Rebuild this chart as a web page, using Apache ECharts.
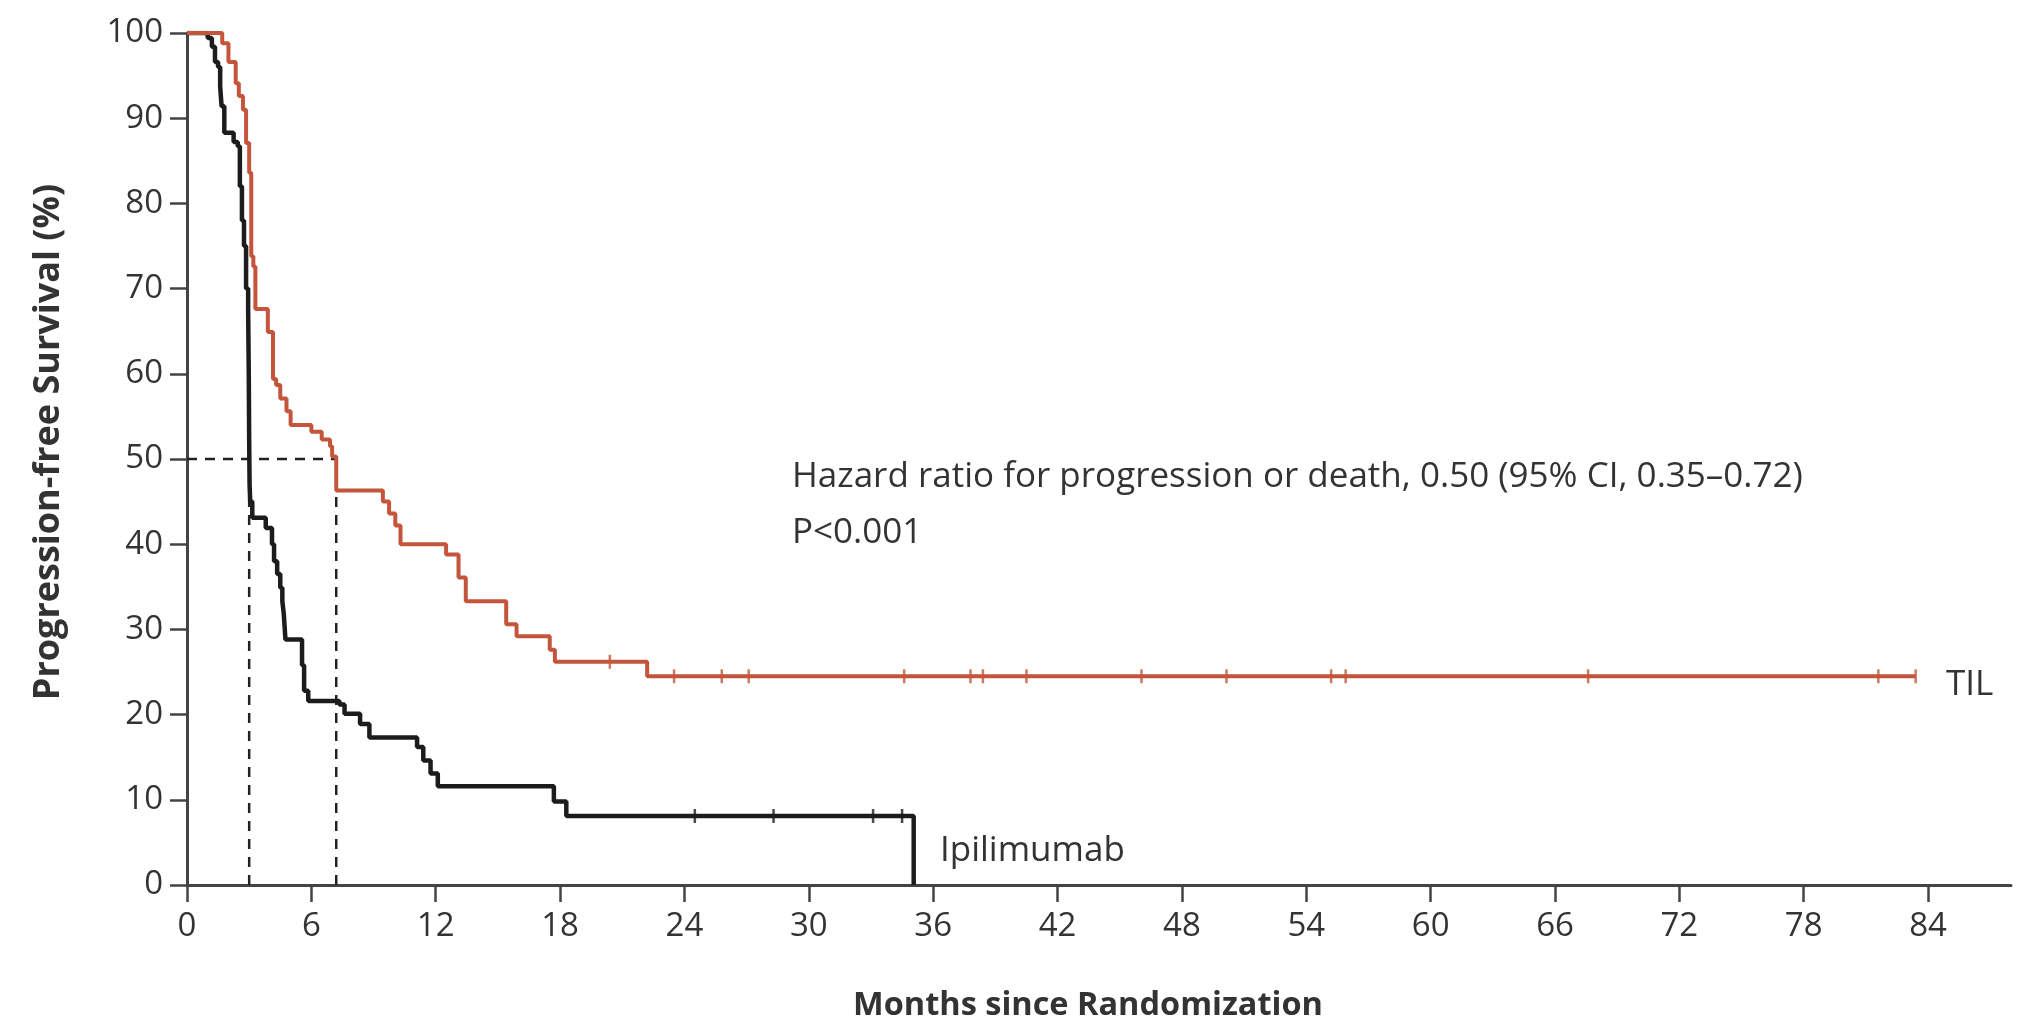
<!DOCTYPE html>
<html>
<head>
<meta charset="utf-8">
<script src="https://cdn.jsdelivr.net/npm/echarts@6/dist/echarts.min.js"></script>
<style>
  html, body { margin: 0; padding: 0; background: #fff; }
  #chart { width: 2019px; height: 1027px; }
</style>
</head>
<body>
<div id="chart"></div>
<script>
// Kaplan-Meier steps: [month, progression-free survival %]
const tilSteps = [
  [0, 100], [1.7, 98.8], [2.0, 96.6], [2.35, 94.1], [2.5, 92.6], [2.7, 91.0],
  [2.85, 87.1], [3.0, 83.6], [3.1, 73.8], [3.2, 72.6], [3.3, 67.6], [3.9, 64.9],
  [4.15, 59.4], [4.3, 58.7], [4.5, 57.1], [4.8, 55.6], [5.0, 54.0], [6.0, 53.2],
  [6.5, 52.3], [6.9, 51.5], [7.0, 50.3], [7.2, 46.3], [9.45, 45.0], [9.75, 43.6],
  [10.05, 42.2], [10.3, 40.0], [12.5, 38.8], [13.1, 36.1], [13.45, 33.3],
  [15.4, 30.6], [15.9, 29.2], [17.5, 27.6], [17.75, 26.2], [22.2, 24.5], [83.4, 24.5]
];
const ipiSteps = [
  [0, 100], [1.0, 99.4], [1.2, 98.4], [1.35, 96.6], [1.5, 96.0], [1.6, 93.7],
  [1.67, 91.4], [1.8, 88.3], [2.25, 87.2], [2.45, 86.7], [2.55, 82.0], [2.65, 78.0],
  [2.75, 75.0], [2.85, 70.0], [2.95, 67.6], [2.98, 60.0], [3.0, 52.0], [3.02, 47.0],
  [3.05, 45.0], [3.15, 43.1], [3.8, 41.9], [4.1, 40.0], [4.2, 38.0], [4.35, 36.5],
  [4.5, 34.9], [4.6, 33.3], [4.67, 31.8], [4.75, 28.8], [5.55, 25.8], [5.65, 22.8],
  [5.85, 21.6], [7.35, 21.2], [7.6, 20.1], [8.35, 18.9], [8.8, 17.3], [11.1, 16.2],
  [11.4, 14.6], [11.75, 13.1], [12.1, 11.6], [17.7, 9.8], [18.3, 8.1], [35.06, 8.1], [35.06, 0]
];
// censored observations
const tilCensored = [
  [20.4, 26.2], [23.5, 24.5], [25.8, 24.5], [27.1, 24.5], [34.6, 24.5], [37.8, 24.5],
  [38.4, 24.5], [40.5, 24.5], [46.05, 24.5], [50.15, 24.5], [55.2, 24.5], [55.9, 24.5],
  [67.6, 24.5], [81.6, 24.5], [83.4, 24.5]
];
const ipiCensored = [[24.5, 8.1], [28.3, 8.1], [33.1, 8.1], [34.5, 8.1]];
// medians (dashed guide lines)
const medianIpi = 3.0;
const medianTil = 7.2;
const xTicks = [0, 6, 12, 18, 24, 30, 36, 42, 48, 54, 60, 66, 72, 78, 84];

const RED = "#c4553c";
const BLACK = "#1c1c1c";
const AXIS = "#444";
const TEXT = "#333";
const FONT = "Open Sans";

const chart = echarts.init(document.getElementById("chart"));

const dashed = (data) => ({
  type: "line",
  data: data,
  symbol: "none",
  silent: true,
  lineStyle: { color: "#222", width: 2.5, type: [10, 8] },
  z: 1,
});

chart.setOption({
  animation: false,
  textStyle: { fontFamily: FONT },
  grid: { left: 187, right: 8, top: 33, bottom: 139 },
  xAxis: {
    type: "value",
    min: 0,
    max: 88,
    name: "Months since Randomization",
    nameLocation: "middle",
    nameGap: 104,
    nameTextStyle: { fontSize: 32.5, fontWeight: "bold", color: TEXT, fontFamily: FONT, padding: [0, 22, 0, 0] },
    axisLine: { lineStyle: { color: AXIS, width: 3 } },
    axisTick: { show: true, length: 17, customValues: xTicks, lineStyle: { color: AXIS, width: 2.5 } },
    axisLabel: { customValues: xTicks, fontSize: 33, color: TEXT, margin: 25, fontFamily: FONT },
    splitLine: { show: false },
  },
  yAxis: {
    type: "value",
    min: 0,
    max: 100,
    interval: 10,
    name: "Progression-free Survival (%)",
    nameLocation: "middle",
    nameGap: 120,
    nameTextStyle: { fontSize: 36, fontWeight: "bold", color: TEXT, fontFamily: FONT, padding: [0, 0, 0, 34] },
    axisLine: { show: true, lineStyle: { color: AXIS, width: 3 } },
    axisTick: { show: true, length: 17, lineStyle: { color: AXIS, width: 2.5 } },
    axisLabel: { fontSize: 33, color: TEXT, margin: 24, fontFamily: FONT },
    splitLine: { show: false },
  },
  series: [
    dashed([[0, 50], [medianTil, 50]]),
    dashed([[medianIpi, 0], [medianIpi, 50]]),
    dashed([[medianTil, 0], [medianTil, 50]]),
    {
      name: "Ipilimumab",
      type: "line",
      step: "end",
      data: ipiSteps,
      symbol: "none",
      lineStyle: { color: BLACK, width: 4.5 },
      z: 3,
    },
    {
      name: "TIL",
      type: "line",
      step: "end",
      data: tilSteps,
      symbol: "none",
      lineStyle: { color: RED, width: 4 },
      z: 4,
    },
    {
      type: "scatter",
      data: tilCensored,
      symbol: "rect",
      symbolSize: [2.5, 14],
      itemStyle: { color: RED },
      z: 5,
    },
    {
      type: "scatter",
      data: ipiCensored,
      symbol: "rect",
      symbolSize: [2.5, 14],
      itemStyle: { color: BLACK },
      z: 5,
    },
  ],
  graphic: [
    {
      type: "text", left: 792, top: 460,
      style: { text: "Hazard ratio for progression or death, 0.50 (95% CI, 0.35–0.72)", fontSize: 35, fill: TEXT, fontFamily: FONT },
    },
    {
      type: "text", left: 792, top: 516,
      style: { text: "P<0.001", fontSize: 35, fill: TEXT, fontFamily: FONT },
    },
    {
      type: "text", left: 940, top: 834,
      style: { text: "Ipilimumab", fontSize: 35, fill: TEXT, fontFamily: FONT },
    },
    {
      type: "text", left: 1946, top: 668,
      style: { text: "TIL", fontSize: 35, fill: TEXT, fontFamily: FONT },
    },
  ],
});
</script>
</body>
</html>
